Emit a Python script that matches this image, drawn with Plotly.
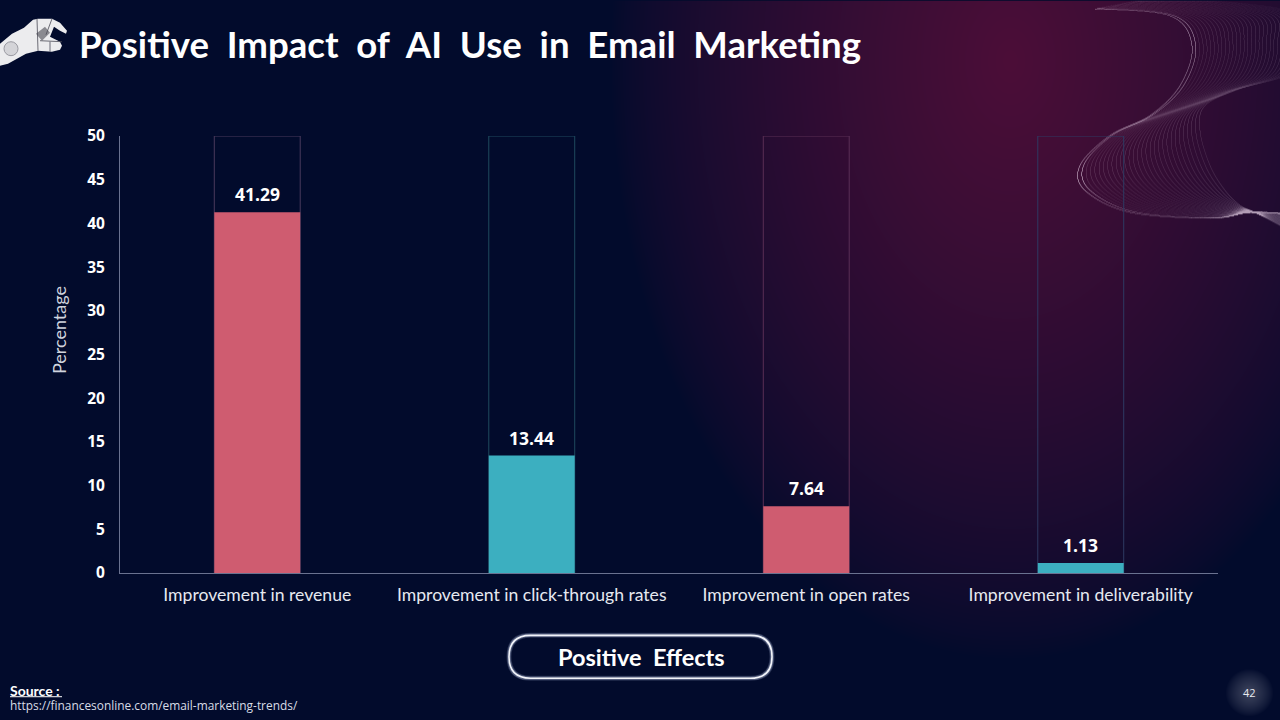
import base64
import struct
import zlib

import numpy as np
import plotly.graph_objects as go

# ---- chart data ----
categories = [
    "Improvement in revenue",
    "Improvement in click-through rates",
    "Improvement in open rates",
    "Improvement in deliverability",
]
values = [41.29, 13.44, 7.64, 1.13]
outline_values = [50, 50, 50, 50]
value_labels = ["41.29", "13.44", "7.64", "1.13"]
y_ticks = [0, 5, 10, 15, 20, 25, 30, 35, 40, 45, 50]
bar_colors = ["#CF5C70", "#3CAFC0", "#CF5C70", "#3CAFC0"]
outline_colors = ["#4A3A5C", "#1F4A5E", "#5A2F55", "#2E3A62"]

W, H = 1280, 720
L, R, T, B = 120, 1218, 135.5, 573.5


def px(x):
    return (x - L) / (R - L)


def py(y):
    return (B - y) / (B - T)


# ---- decorative slide background, as an in-memory PNG ----
def png_uri(arr):
    h, w = arr.shape[:2]
    raw = b"".join(b"\x00" + arr[i].tobytes() for i in range(h))

    def chunk(tag, data):
        return struct.pack(">I", len(data)) + tag + data + struct.pack(">I", zlib.crc32(tag + data))

    data = (
        b"\x89PNG\r\n\x1a\n"
        + chunk(b"IHDR", struct.pack(">IIBBBBB", w, h, 8, 2, 0, 0, 0))
        + chunk(b"IDAT", zlib.compress(raw))
        + chunk(b"IEND", b"")
    )
    return "data:image/png;base64," + base64.b64encode(data).decode()


def catmull(points, n=260):
    p = np.asarray(points, float)
    p = np.vstack([p[0], p, p[-1]])
    out = []
    s = np.linspace(0, 1, n, endpoint=False)[:, None]
    for i in range(1, len(p) - 2):
        a, b, c, d_ = p[i - 1], p[i], p[i + 1], p[i + 2]
        out.append(0.5 * (2 * b + (c - a) * s + (2 * a - 5 * b + 4 * c - d_) * s ** 2
                          + (3 * b - a - 3 * c + d_) * s ** 3))
    return np.vstack(out)


yy, xx = np.mgrid[0:H, 0:W]
navy = np.array([2, 11, 44], float)
magenta = np.array([76, 14, 56], float)
d = np.sqrt(((xx - 1010) / 400.0) ** 2 + ((yy - 60) / 600.0) ** 2)
t = np.clip(1 - d, 0, 1) ** 0.72
img = navy[None, None, :] * (1 - t[..., None]) + magenta[None, None, :] * t[..., None]

# fine wave lines, splatted additively into the background
edge_a = np.array([(1095, 8), (1170, 15), (1192, 45), (1180, 85), (1150, 115), (1110, 135),
                   (1080, 165), (1085, 190), (1130, 212), (1210, 218), (1250, 212), (1285, 213)], float)
edge_b = np.array([(1160, -5), (1290, 10), (1300, 40), (1290, 72), (1240, 88), (1205, 105),
                   (1200, 130), (1210, 165), (1225, 190), (1240, 205), (1255, 212), (1285, 228)], float)
wave = np.zeros((H, W))
n_wave = 30
for k in range(n_wave):
    f = k / (n_wave - 1)
    curve = catmull(edge_a * (1 - f) + edge_b * f)
    strength = 0.012 if k > 1 else 0.05
    ix = curve[:, 0].astype(int)
    iy = curve[:, 1].astype(int)
    ok = (ix >= 0) & (ix < W) & (iy >= 0) & (iy < H)
    np.add.at(wave, (iy[ok], ix[ok]), strength)
wave = np.clip(wave, 0, 0.7)[..., None]
img = img * (1 - wave) + np.array([240, 220, 240.0]) * wave

dg = np.sqrt((xx - 1249) ** 2 + (yy - 693) ** 2) / 24.0
g = (np.clip(1 - dg, 0, 1) ** 0.8)[..., None] * 0.24
img = img * (1 - g) + 255 * g
bg_uri = png_uri(np.clip(img, 0, 255).astype(np.uint8))

shapes = []


def closed(points):
    return "M" + " L".join(f"{px(a):.5f},{py(b):.5f}" for a, b in points) + " Z"


# robot hand
hand = [(0, 43), (12, 33), (24, 27), (33, 19), (38, 18), (52, 18), (60, 22), (67, 30), (66, 33),
        (60, 30), (54, 26), (50, 36), (60, 41), (62, 45), (60, 49), (52, 51), (38, 50), (26, 53),
        (8, 63), (0, 65)]
shapes.append(dict(type="path", xref="paper", yref="paper", path=closed(hand),
                   fillcolor="#ECECEE", line=dict(width=0)))
shapes.append(dict(type="path", xref="paper", yref="paper", path=closed([(36, 33), (45, 26), (50, 32), (42, 40)]),
                   fillcolor="#8A8A90", line=dict(width=0)))
for seg in ([(37, 18), (38, 50)], [(52, 18), (46, 34)], [(40, 40), (62, 41)], [(50, 41), (50, 51)]):
    shapes.append(dict(type="line", xref="paper", yref="paper", x0=px(seg[0][0]), y0=py(seg[0][1]),
                       x1=px(seg[1][0]), y1=py(seg[1][1]), line=dict(color="#4A4A55", width=0.8)))
shapes.append(dict(type="circle", xref="paper", yref="paper", x0=px(4), x1=px(18), y0=py(41), y1=py(55),
                   fillcolor="#D4D4D8", line=dict(color="#9A9AA2", width=1)))

# pill around "Positive Effects"
pl, pr, pt, pb = 509, 772, 636, 679
r = (pb - pt) / 2
pill = (f"M{px(pl + r)},{py(pt)} L{px(pr - r)},{py(pt)} "
        f"Q{px(pr)},{py(pt)} {px(pr)},{py(pt + r)} Q{px(pr)},{py(pb)} {px(pr - r)},{py(pb)} "
        f"L{px(pl + r)},{py(pb)} Q{px(pl)},{py(pb)} {px(pl)},{py(pt + r)} Q{px(pl)},{py(pt)} {px(pl + r)},{py(pt)} Z")
for width, color in ((5, "rgba(190,200,235,0.18)"), (3.5, "rgba(200,210,240,0.3)"), (1.6, "#F2F4FA")):
    shapes.append(dict(type="path", xref="paper", yref="paper", path=pill, line=dict(color=color, width=width)))

# underline of "Source :"
shapes.append(dict(type="line", xref="paper", yref="paper", x0=px(10), x1=px(62), y0=py(697.5), y1=py(697.5),
                   line=dict(color="#FFFFFF", width=1)))

# ---- marks ----
fig = go.Figure()
fig.add_bar(x=categories, y=outline_values, width=0.313, showlegend=False, hoverinfo="skip",
            marker=dict(color="rgba(0,0,0,0)", line=dict(color=outline_colors, width=1)))
fig.add_bar(x=categories, y=values, width=0.313, showlegend=False,
            marker=dict(color=bar_colors, line=dict(width=0)))

annotations = [
    dict(x=c, y=v, text=f"<b>{s}</b>", showarrow=False, yshift=18, yanchor="middle",
         font=dict(family="Open Sans", size=17.5, color="#FFFFFF"))
    for c, v, s in zip(categories, values, value_labels)
]


def label(x, y, text, size, family="Lato", color="#FFFFFF", xanchor="left", **kw):
    annotations.append(dict(xref="paper", yref="paper", x=px(x), y=py(y), text=text, showarrow=False,
                            xanchor=xanchor, yanchor="middle", font=dict(family=family, size=size, color=color),
                            **kw))


SP = "\u00a0\u00a0"
label(77, 43, "<b>" + SP.join(["Positive", "Impact", "of", "AI", "Use", "in", "Email", "Marketing"]) + "</b>", 36.6)
label(641, 658, "<b>Positive" + SP + "Effects</b>", 23.5, xanchor="center")
label(8, 691, "<b>Source :</b>", 14)
label(8, 706, "https://financesonline.com/email-marketing-trends/", 11.9, family="Open Sans", color="#D8DCE6")
label(1249, 693.5, "42", 11, family="Open Sans", color="#E8EAF0", xanchor="center")
label(59, 330, "Percentage", 18, color="#D0D4DE", xanchor="center", textangle=-90)

fig.update_layout(
    width=W,
    height=H,
    autosize=False,
    barmode="overlay",
    margin=dict(l=L, r=W - R, t=T, b=H - B, pad=0),
    paper_bgcolor="#020B2C",
    plot_bgcolor="rgba(0,0,0,0)",
    images=[dict(source=bg_uri, xref="paper", yref="paper", x=px(0), y=py(0), sizex=W / (R - L),
                 sizey=H / (B - T), xanchor="left", yanchor="top", sizing="stretch", layer="below")],
    shapes=shapes,
    annotations=annotations,
    xaxis=dict(
        type="category",
        categoryorder="array",
        categoryarray=categories,
        showgrid=False,
        zeroline=False,
        showline=True,
        linecolor="#6A7290",
        linewidth=1,
        ticks="outside",
        ticklen=6,
        tickcolor="rgba(0,0,0,0)",
        tickfont=dict(family="Lato", size=17.6, color="#E6E9F0"),
        tickangle=0,
    ),
    yaxis=dict(
        range=[0, 50],
        tickvals=y_ticks,
        showgrid=False,
        zeroline=False,
        showline=True,
        linecolor="#6A7290",
        linewidth=1,
        ticks="outside",
        ticklen=11,
        tickcolor="rgba(0,0,0,0)",
        tickfont=dict(family="Open Sans", size=15.5, color="#FFFFFF", weight="bold"),
    ),
)

fig.write_html("out.html", config={"displayModeBar": False},
               post_script="document.body.style.margin='0';document.body.style.overflow='hidden';")
